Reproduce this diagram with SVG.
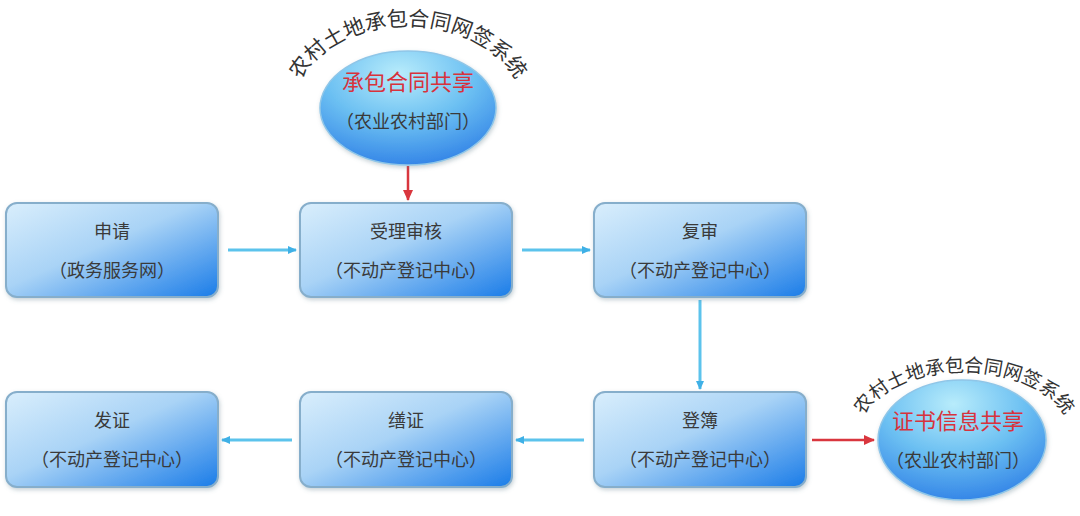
<svg xmlns="http://www.w3.org/2000/svg" xmlns:xlink="http://www.w3.org/1999/xlink" width="1080" height="516" viewBox="0 0 1080 516">
<defs>
<linearGradient id="boxg" x1="0" y1="0" x2="1" y2="1">
<stop offset="0" stop-color="#d9eefc"/>
<stop offset="0.45" stop-color="#a9d3f6"/>
<stop offset="1" stop-color="#1a7ce8"/>
</linearGradient>
<radialGradient id="ellg" cx="0.45" cy="0.2" r="0.85">
<stop offset="0" stop-color="#b8ecfb"/>
<stop offset="0.5" stop-color="#6cc0f2"/>
<stop offset="1" stop-color="#2e7fe6"/>
</radialGradient>
<filter id="sh" x="-10%" y="-10%" width="125%" height="130%">
<feDropShadow dx="1" dy="2" stdDeviation="2" flood-color="#607d8b" flood-opacity="0.35"/>
</filter>
<marker id="ab" markerWidth="10" markerHeight="10" refX="8" refY="5" orient="auto" markerUnits="userSpaceOnUse">
<path d="M0,1 L9,5 L0,9 Z" fill="#3fb0e6"/>
</marker>
<marker id="ar" markerWidth="12" markerHeight="12" refX="10" refY="6" orient="auto" markerUnits="userSpaceOnUse">
<path d="M0,1 L11,6 L0,11 Z" fill="#d9363e"/>
</marker>
<path id="arc1" d="M 292,112 A 116 86 0 0 1 524,112"/>
<path id="arc2" d="M 858,436 A 106 64 0 0 1 1070,436"/>
</defs>
<style>
.box{fill:url(#boxg);stroke:#86aecb;stroke-width:2;filter:url(#sh)}
.ell{fill:url(#ellg);stroke:#8fc6e8;stroke-width:1.5;filter:url(#sh)}
.t{font-family:"Noto Sans CJK SC","Noto Sans",sans-serif;font-size:18px;fill:#3a3a3a;text-anchor:middle}
.r{font-family:"Noto Sans CJK SC","Noto Sans",sans-serif;font-size:22px;fill:#d8323c;text-anchor:middle}
.arc{font-family:"Noto Sans CJK SC","Noto Sans",sans-serif;font-size:21px;fill:#333}
.arc2{font-family:"Noto Sans CJK SC","Noto Sans",sans-serif;font-size:19px;fill:#333}
.cb{stroke:#5cc3ec;stroke-width:3;fill:none;marker-end:url(#ab)}
.cr{stroke:#d9363e;stroke-width:2.5;fill:none;marker-end:url(#ar)}
</style>
<rect width="1080" height="516" fill="#ffffff"/>

<g id="connectors">
<line class="cr" x1="408" y1="166" x2="408" y2="200"/>
<line class="cb" x1="228" y1="250" x2="296" y2="250"/>
<line class="cb" x1="522" y1="250" x2="590" y2="250"/>
<line class="cb" x1="700" y1="300" x2="700" y2="389"/>
<line class="cb" x1="584" y1="440" x2="516" y2="440"/>
<line class="cb" x1="292" y1="440" x2="222" y2="440"/>
<line class="cr" x1="812" y1="440" x2="874" y2="440"/>
</g>

<g id="node-share-contract">
<ellipse class="ell" cx="408" cy="108" rx="88" ry="57"/>
<text class="arc"><textPath href="#arc1" xlink:href="#arc1" startOffset="50%" text-anchor="middle">农村土地承包合同网签系统</textPath></text>
<text class="r" x="408" y="90">承包合同共享</text>
<text class="t" x="408" y="128">（农业农村部门）</text>
</g>

<g id="node-apply">
<rect class="box" x="6" y="203" width="212" height="94" rx="11"/>
<text class="t" x="112" y="238">申请</text>
<text class="t" x="112" y="277">（政务服务网）</text>
</g>

<g id="node-accept">
<rect class="box" x="300" y="203" width="212" height="94" rx="11"/>
<text class="t" x="406" y="238">受理审核</text>
<text class="t" x="406" y="277">（不动产登记中心）</text>
</g>

<g id="node-review">
<rect class="box" x="594" y="203" width="212" height="94" rx="11"/>
<text class="t" x="700" y="238">复审</text>
<text class="t" x="700" y="277">（不动产登记中心）</text>
</g>

<g id="node-issue">
<rect class="box" x="6" y="392" width="212" height="95" rx="11"/>
<text class="t" x="112" y="427">发证</text>
<text class="t" x="112" y="466">（不动产登记中心）</text>
</g>

<g id="node-print">
<rect class="box" x="300" y="392" width="212" height="95" rx="11"/>
<text class="t" x="406" y="427">缮证</text>
<text class="t" x="406" y="466">（不动产登记中心）</text>
</g>

<g id="node-register">
<rect class="box" x="594" y="392" width="212" height="95" rx="11"/>
<text class="t" x="700" y="427">登簿</text>
<text class="t" x="700" y="466">（不动产登记中心）</text>
</g>

<g id="node-share-cert">
<ellipse class="ell" cx="962" cy="440" rx="84" ry="60"/>
<text class="arc2"><textPath href="#arc2" xlink:href="#arc2" startOffset="50%" text-anchor="middle">农村土地承包合同网签系统</textPath></text>
<text class="r" x="958" y="429">证书信息共享</text>
<text class="t" x="958" y="467">（农业农村部门）</text>
</g>
</svg>
